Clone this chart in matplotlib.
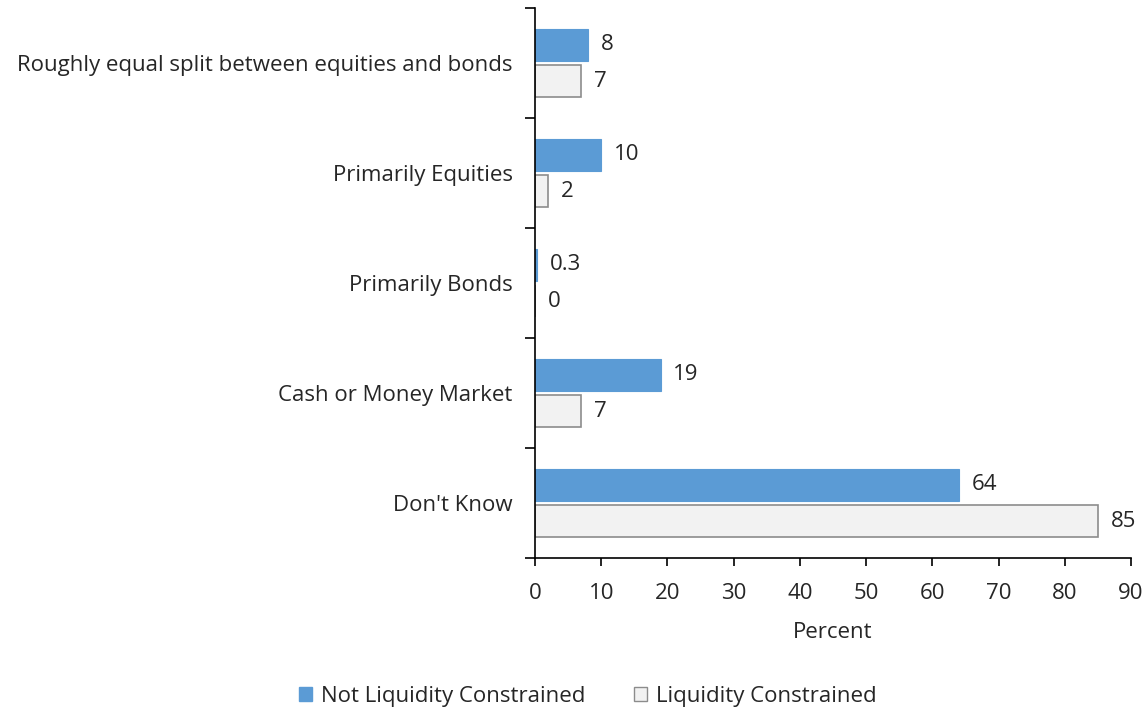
import matplotlib

matplotlib.use("Agg")

import matplotlib.pyplot as plt
import numpy as np
from matplotlib.patches import Patch


# ==================================================
# DATA
# ==================================================

categories = [
    "Roughly equal split between equities and bonds",
    "Primarily Equities",
    "Primarily Bonds",
    "Cash or Money Market",
    "Don't Know",
]

not_constrained = [8, 10, 0.3, 19, 64]
constrained = [7, 2, 0, 7, 85]

not_constrained_labels = ["8", "10", "0.3", "19", "64"]
constrained_labels = ["7", "2", "0", "7", "85"]

x_ticks = [0, 10, 20, 30, 40, 50, 60, 70, 80, 90]


# ==================================================
# CHART
# ==================================================

plt.rcParams["font.family"] = ["Open Sans", "DejaVu Sans"]

BLUE = "#5b9bd5"
LIGHT = "#f2f2f2"
EDGE = "#8c8c8c"
TEXT = "#262626"
FS = 16

fig = plt.figure(figsize=(11.48, 7.12), dpi=100)
ax = fig.add_axes([0.466, 0.2163, 0.5192, 0.7725])

n = len(categories)
pos = np.arange(n)
bar_h = 0.29
offset = 0.165

ax.barh(pos - offset, not_constrained, height=bar_h, color=BLUE,
        edgecolor=BLUE, linewidth=0.8)
ax.barh(pos + offset, constrained, height=bar_h, color=LIGHT,
        edgecolor=EDGE, linewidth=1.2)

for i in range(n):
    ax.text(not_constrained[i] + 1.9, pos[i] - offset, not_constrained_labels[i],
            va="center", ha="left", fontsize=FS, color=TEXT)
    ax.text(constrained[i] + 1.9, pos[i] + offset, constrained_labels[i],
            va="center", ha="left", fontsize=FS, color=TEXT)

ax.set_xlim(0, 90)
ax.set_ylim(n - 0.5, -0.5)

ax.set_xticks(x_ticks)
ax.set_xticklabels([str(t) for t in x_ticks], fontsize=FS, color=TEXT)
ax.tick_params(axis="x", direction="out", length=6, width=1.2, pad=12,
               colors="#000000", labelcolor=TEXT)

# category names sit at band centres, tick marks at band edges
ax.set_yticks(pos)
ax.set_yticklabels(categories, fontsize=FS, color=TEXT)
ax.tick_params(axis="y", which="major", length=0, pad=16)
ax.set_yticks(np.arange(n + 1) - 0.5, minor=True)
ax.tick_params(axis="y", which="minor", direction="out", length=7, width=1.2,
               colors="#000000")

for side in ["top", "right"]:
    ax.spines[side].set_visible(False)
ax.spines["left"].set_linewidth(1.2)
ax.spines["bottom"].set_linewidth(1.2)

ax.set_xlabel("Percent", fontsize=FS, color=TEXT, labelpad=13)

handles = [
    Patch(facecolor=BLUE, edgecolor=BLUE, label="Not Liquidity Constrained"),
    Patch(facecolor=LIGHT, edgecolor=EDGE, label="Liquidity Constrained"),
]
fig.legend(handles=handles, loc="center", bbox_to_anchor=(0.512, 0.022),
           ncol=2, frameon=False, fontsize=FS, handlelength=0.6,
           handleheight=0.6, handletextpad=0.4, columnspacing=2.2,
           labelcolor=TEXT)

fig.savefig("out.png", dpi=100)
plt.close(fig)
